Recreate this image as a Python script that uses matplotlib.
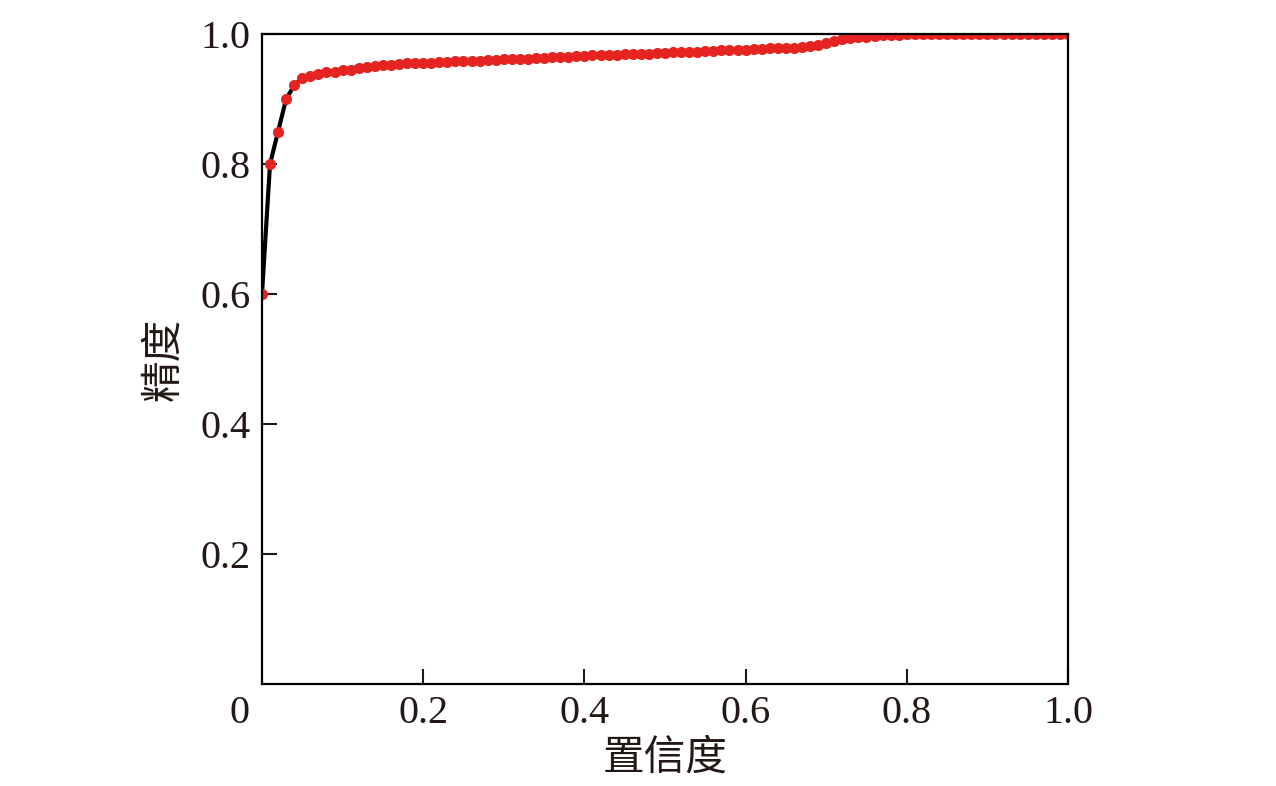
import matplotlib
matplotlib.use('Agg')
import matplotlib.pyplot as plt
import numpy as np

plt.rcParams['font.family'] = ['Liberation Serif', 'Noto Sans CJK SC']

# confidence (x) and precision (y), one point every 0.01
confidence = np.round(np.arange(0, 101) * 0.01, 2)
precision = [
    0.600, 0.800, 0.850, 0.900, 0.921, 0.932, 0.936, 0.939, 0.941, 0.942,
    0.944, 0.945, 0.948, 0.950, 0.951, 0.952, 0.953, 0.954, 0.955, 0.955,
    0.956, 0.956, 0.957, 0.957, 0.958, 0.958, 0.959, 0.959, 0.960, 0.960,
    0.961, 0.961, 0.962, 0.962, 0.963, 0.963, 0.964, 0.965, 0.965, 0.966,
    0.966, 0.967, 0.967, 0.968, 0.968, 0.969, 0.969, 0.970, 0.970, 0.971,
    0.971, 0.972, 0.972, 0.973, 0.973, 0.974, 0.974, 0.975, 0.975, 0.976,
    0.976, 0.977, 0.977, 0.978, 0.978, 0.979, 0.979, 0.980, 0.981, 0.983,
    0.986, 0.989, 0.992, 0.994, 0.995, 0.996, 0.997, 0.998, 0.999, 0.999,
    1.000, 1.000, 1.000, 1.000, 1.000, 1.000, 1.000, 1.000, 1.000, 1.000,
    1.000, 1.000, 1.000, 1.000, 1.000, 1.000, 1.000, 1.000, 1.000, 1.000,
    1.000,
]

xticks = [0.2, 0.4, 0.6, 0.8, 1.0]
xtick_labels = ['0.2', '0.4', '0.6', '0.8', '1.0']
yticks = [0.2, 0.4, 0.6, 0.8, 1.0]
ytick_labels = ['0.2', '0.4', '0.6', '0.8', '1.0']

fig = plt.figure(figsize=(12.76, 7.86), dpi=100)
ax = fig.add_axes([0.2053, 0.1298, 0.6317, 0.8269])

ax.plot(confidence, precision, color='black', linewidth=3, zorder=2)
ax.plot(confidence, precision, linestyle='none', marker='o', markersize=8,
        color='#E52421', markeredgewidth=0, zorder=2.1)

ax.set_xlim(0, 1)
ax.set_ylim(0, 1)
ax.set_xticks(xticks)
ax.set_xticklabels(xtick_labels)
ax.set_yticks(yticks)
ax.set_yticklabels(ytick_labels)
ax.tick_params(direction='in', length=10.5, width=1.5, labelsize=29, pad=8,
               colors='#231815')
for s in ax.spines.values():
    s.set_linewidth(1.6)
    s.set_color('black')

# origin label sits left of the corner
ax.annotate('0', xy=(0, 0), xycoords='axes fraction', xytext=(-16, -8),
            textcoords='offset points', ha='center', va='top', fontsize=29,
            color='#231815')

ax.set_xlabel('置信度', fontsize=30, family=['Noto Sans CJK SC'], labelpad=4,
              color='#231815')
ax.set_ylabel('精度', fontsize=30, family=['Noto Sans CJK SC'], labelpad=12,
              color='#231815')

plt.savefig('out.png', dpi=100)
